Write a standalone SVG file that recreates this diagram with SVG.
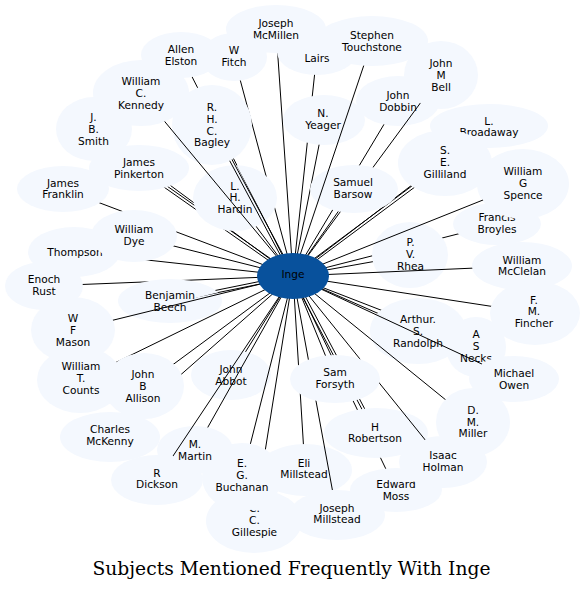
<svg xmlns="http://www.w3.org/2000/svg" width="584" height="590" viewBox="0 0 584 590">
<style>
.n ellipse{fill:#f4f8fe}
.n text{font-family:"DejaVu Sans",Verdana,sans-serif;font-size:10.6px;text-anchor:middle;fill:#000}
#edges line{stroke:#000;stroke-width:1}
.title{font-family:"DejaVu Serif",serif;font-size:18.7px;text-anchor:middle;fill:#000}
</style>
<defs>
<mask id="edgemask" maskUnits="userSpaceOnUse" x="0" y="0" width="584" height="590">
<rect width="584" height="590" fill="#fff"/>
<g fill="#000">
<ellipse cx="317" cy="52" rx="40" ry="23"/><ellipse cx="276" cy="29" rx="50" ry="24"/><ellipse cx="372" cy="41" rx="56" ry="25"/>
<ellipse cx="181" cy="55" rx="40" ry="23"/><ellipse cx="234" cy="57" rx="33" ry="24"/><ellipse cx="94" cy="129" rx="38" ry="32"/>
<ellipse cx="141" cy="93" rx="48" ry="33"/><ellipse cx="212" cy="125" rx="40" ry="40"/><ellipse cx="324" cy="120" rx="41" ry="25"/>
<ellipse cx="398" cy="101" rx="42" ry="25"/><ellipse cx="441" cy="75" rx="37" ry="34"/><ellipse cx="489" cy="126" rx="59" ry="22"/>
<ellipse cx="445" cy="163" rx="47" ry="33"/><ellipse cx="497" cy="224" rx="44" ry="21"/><ellipse cx="523" cy="184" rx="46" ry="35"/>
<ellipse cx="354" cy="189" rx="44" ry="24"/><ellipse cx="139" cy="168" rx="50" ry="23"/><ellipse cx="63" cy="189" rx="46" ry="23"/>
<ellipse cx="235" cy="198" rx="42" ry="33"/><ellipse cx="74" cy="252" rx="46" ry="25"/><ellipse cx="134" cy="236" rx="43" ry="26"/>
<ellipse cx="410" cy="255" rx="38" ry="33"/><ellipse cx="522" cy="266" rx="50" ry="24"/><ellipse cx="44" cy="286" rx="39" ry="24"/>
<ellipse cx="170" cy="301" rx="52" ry="22"/><ellipse cx="535" cy="313" rx="45" ry="32"/><ellipse cx="418" cy="331" rx="48" ry="33"/>
<ellipse cx="73" cy="330" rx="42" ry="33"/><ellipse cx="476" cy="347" rx="30" ry="30"/><ellipse cx="514" cy="379" rx="45" ry="23"/>
<ellipse cx="80" cy="380" rx="43" ry="33"/><ellipse cx="144" cy="386" rx="40" ry="33"/><ellipse cx="231" cy="375" rx="40" ry="25"/>
<ellipse cx="335" cy="379" rx="45" ry="24"/><ellipse cx="376" cy="433" rx="52" ry="25"/><ellipse cx="110" cy="437" rx="50" ry="25"/>
<ellipse cx="396" cy="490" rx="46" ry="22"/><ellipse cx="443" cy="462" rx="44" ry="26"/><ellipse cx="473" cy="422" rx="37" ry="34"/>
<ellipse cx="254" cy="521" rx="48" ry="32"/><ellipse cx="242" cy="477" rx="40" ry="34"/><ellipse cx="305" cy="470" rx="47" ry="26"/>
<ellipse cx="157" cy="480" rx="46" ry="25"/><ellipse cx="195" cy="450" rx="38" ry="24"/><ellipse cx="337" cy="515" rx="48" ry="25"/>
</g>
<g stroke="#fff" stroke-width="3" fill="none">
<line x1="166" y1="123" x2="262" y2="240"/>
<line x1="232.4" y1="163" x2="268" y2="230" stroke-width="5"/>
<line x1="363.3" y1="67" x2="305" y2="240"/>
<line x1="420.4" y1="103" x2="380" y2="158"/>
<line x1="113.5" y1="320" x2="230" y2="291"/>
<line x1="472" y1="268.2" x2="370" y2="272.6"/>
<line x1="482" y1="364" x2="335" y2="296"/>
<line x1="173" y1="456" x2="262" y2="322"/>
<line x1="208" y1="427" x2="262" y2="331"/>
<line x1="483" y1="200" x2="360" y2="249"/>
<line x1="316.2" y1="402" x2="332.4" y2="490"/>
<line x1="380" y1="384" x2="425" y2="440"/>
<line x1="350" y1="322" x2="445" y2="399"/>
<line x1="251" y1="443" x2="275" y2="346"/>
</g>
</mask>
</defs>
<rect width="584" height="590" fill="#fff"/>
<g id="n-lairs" class="n"><ellipse cx="317" cy="52" rx="40" ry="23"/><text><tspan x="317" y="62.2">Lairs</tspan></text></g>
<g id="n-mcmillen" class="n"><ellipse cx="276" cy="29" rx="50" ry="24"/><text><tspan x="276" y="27.05">Joseph</tspan><tspan x="276" y="38.75">McMillen</tspan></text></g>
<g id="n-touchstone" class="n"><ellipse cx="372" cy="41" rx="56" ry="25"/><text><tspan x="372" y="39.05">Stephen</tspan><tspan x="372" y="50.75">Touchstone</tspan></text></g>
<g id="n-elston" class="n"><ellipse cx="181" cy="55" rx="40" ry="23"/><text><tspan x="181" y="53.05">Allen</tspan><tspan x="181" y="64.75">Elston</tspan></text></g>
<g id="n-fitch" class="n"><ellipse cx="234" cy="57" rx="33" ry="24"/><text><tspan x="234" y="54.05">W</tspan><tspan x="234" y="65.75">Fitch</tspan></text></g>
<g id="n-smith" class="n"><ellipse cx="94" cy="129" rx="38" ry="32"/><text><tspan x="93.5" y="121.2">J.</tspan><tspan x="93.5" y="132.9">B.</tspan><tspan x="93.5" y="144.6">Smith</tspan></text></g>
<g id="n-kennedy" class="n"><ellipse cx="141" cy="93" rx="48" ry="33"/><text><tspan x="141" y="85.2">William</tspan><tspan x="141" y="96.9">C.</tspan><tspan x="141" y="108.6">Kennedy</tspan></text></g>
<g id="n-bagley" class="n"><ellipse cx="212" cy="125" rx="40" ry="40"/><text><tspan x="212" y="111.35">R.</tspan><tspan x="212" y="123.05">H.</tspan><tspan x="212" y="134.75">C.</tspan><tspan x="212" y="146.45">Bagley</tspan></text></g>
<g id="n-yeager" class="n"><ellipse cx="324" cy="120" rx="41" ry="25"/><text><tspan x="323" y="117.35">N.</tspan><tspan x="323" y="129.05">Yeager</tspan></text></g>
<g id="n-dobbin" class="n"><ellipse cx="398" cy="101" rx="42" ry="25"/><text><tspan x="398" y="99.05">John</tspan><tspan x="398" y="110.75">Dobbin</tspan></text></g>
<g id="n-bell" class="n"><ellipse cx="441" cy="75" rx="37" ry="34"/><text><tspan x="441" y="67.2">John</tspan><tspan x="441" y="78.9">M</tspan><tspan x="441" y="90.6">Bell</tspan></text></g>
<g id="n-broadaway" class="n"><ellipse cx="489" cy="126" rx="59" ry="22"/><text><tspan x="489" y="124.75">L.</tspan><tspan x="489" y="136.45">Broadaway</tspan></text></g>
<g id="n-gilliland" class="n"><ellipse cx="445" cy="163" rx="47" ry="33"/><text><tspan x="445" y="154.2">S.</tspan><tspan x="445" y="165.9">E.</tspan><tspan x="445" y="177.6">Gilliland</tspan></text></g>
<g id="n-broyles" class="n"><ellipse cx="497" cy="224" rx="44" ry="21"/><text><tspan x="497" y="221.05">Francis</tspan><tspan x="497" y="232.75">Broyles</tspan></text></g>
<g id="n-spence" class="n"><ellipse cx="523" cy="184" rx="46" ry="35"/><text><tspan x="523" y="175.2">William</tspan><tspan x="523" y="186.9">G</tspan><tspan x="523" y="198.6">Spence</tspan></text></g>
<g id="n-barsow" class="n"><ellipse cx="354" cy="189" rx="44" ry="24"/><text><tspan x="353" y="186.05">Samuel</tspan><tspan x="353" y="197.75">Barsow</tspan></text></g>
<g id="n-pinkerton" class="n"><ellipse cx="139" cy="168" rx="50" ry="23"/><text><tspan x="139" y="166.05">James</tspan><tspan x="139" y="177.75">Pinkerton</tspan></text></g>
<g id="n-franklin" class="n"><ellipse cx="63" cy="189" rx="46" ry="23"/><text><tspan x="63" y="186.55">James</tspan><tspan x="63" y="198.25">Franklin</tspan></text></g>
<g id="n-hardin" class="n"><ellipse cx="235" cy="198" rx="42" ry="33"/><text><tspan x="235" y="189.7">L.</tspan><tspan x="235" y="201.4">H.</tspan><tspan x="235" y="213.1">Hardin</tspan></text></g>
<g id="n-thompson" class="n"><ellipse cx="74" cy="252" rx="46" ry="25"/><text><tspan x="75" y="255.6">Thompson</tspan></text></g>
<g id="n-dye" class="n"><ellipse cx="134" cy="236" rx="43" ry="26"/><text><tspan x="134" y="233.05">William</tspan><tspan x="134" y="244.75">Dye</tspan></text></g>
<g id="n-rhea" class="n"><ellipse cx="410" cy="255" rx="38" ry="33"/><text><tspan x="410.5" y="246.2">P.</tspan><tspan x="410.5" y="257.9">V.</tspan><tspan x="410.5" y="269.6">Rhea</tspan></text></g>
<g id="n-mcclelan" class="n"><ellipse cx="522" cy="266" rx="50" ry="24"/><text><tspan x="522" y="263.55">William</tspan><tspan x="522" y="275.25">McClelan</tspan></text></g>
<g id="n-rust" class="n"><ellipse cx="44" cy="286" rx="39" ry="24"/><text><tspan x="44" y="283.05">Enoch</tspan><tspan x="44" y="294.75">Rust</tspan></text></g>
<g id="n-beech" class="n"><ellipse cx="170" cy="301" rx="52" ry="22"/><text><tspan x="170" y="299.05">Benjamin</tspan><tspan x="170" y="310.75">Beech</tspan></text></g>
<g id="n-fincher" class="n"><ellipse cx="535" cy="313" rx="45" ry="32"/><text><tspan x="534" y="303.7">F.</tspan><tspan x="534" y="315.4">M.</tspan><tspan x="534" y="327.1">Fincher</tspan></text></g>
<g id="n-randolph" class="n"><ellipse cx="418" cy="331" rx="48" ry="33"/><text><tspan x="418" y="323.2">Arthur.</tspan><tspan x="418" y="334.9">S.</tspan><tspan x="418" y="346.6">Randolph</tspan></text></g>
<g id="n-mason" class="n"><ellipse cx="73" cy="330" rx="42" ry="33"/><text><tspan x="73" y="322.2">W</tspan><tspan x="73" y="333.9">F</tspan><tspan x="73" y="345.6">Mason</tspan></text></g>
<g id="n-necks" class="n"><ellipse cx="476" cy="347" rx="30" ry="30"/><text><tspan x="476" y="338.2">A</tspan><tspan x="476" y="349.9">S</tspan><tspan x="476" y="361.6">Necks</tspan></text></g>
<g id="n-owen" class="n"><ellipse cx="514" cy="379" rx="45" ry="23"/><text><tspan x="514" y="377.05">Michael</tspan><tspan x="514" y="388.75">Owen</tspan></text></g>
<g id="n-counts" class="n"><ellipse cx="80" cy="380" rx="43" ry="33"/><text><tspan x="81" y="370.2">William</tspan><tspan x="81" y="381.9">T.</tspan><tspan x="81" y="393.6">Counts</tspan></text></g>
<g id="n-allison" class="n"><ellipse cx="144" cy="386" rx="40" ry="33"/><text><tspan x="143" y="378.2">John</tspan><tspan x="143" y="389.9">B</tspan><tspan x="143" y="401.6">Allison</tspan></text></g>
<g id="n-abbot" class="n"><ellipse cx="231" cy="375" rx="40" ry="25"/><text><tspan x="231" y="373.05">John</tspan><tspan x="231" y="384.75">Abbot</tspan></text></g>
<g id="n-forsyth" class="n"><ellipse cx="335" cy="379" rx="45" ry="24"/><text><tspan x="335" y="376.05">Sam</tspan><tspan x="335" y="387.75">Forsyth</tspan></text></g>
<g id="n-robertson" class="n"><ellipse cx="376" cy="433" rx="52" ry="25"/><text><tspan x="375" y="430.55">H</tspan><tspan x="375" y="442.25">Robertson</tspan></text></g>
<g id="n-mckenny" class="n"><ellipse cx="110" cy="437" rx="50" ry="25"/><text><tspan x="110" y="433.05">Charles</tspan><tspan x="110" y="444.75">McKenny</tspan></text></g>
<g id="n-moss" class="n"><ellipse cx="396" cy="490" rx="46" ry="22"/><text><tspan x="396" y="488.05">Edward</tspan><tspan x="396" y="499.75">Moss</tspan></text></g>
<g id="n-holman" class="n"><ellipse cx="443" cy="462" rx="44" ry="26"/><text><tspan x="443" y="459.05">Isaac</tspan><tspan x="443" y="470.75">Holman</tspan></text></g>
<g id="n-miller" class="n"><ellipse cx="473" cy="422" rx="37" ry="34"/><text><tspan x="473" y="413.9">D.</tspan><tspan x="473" y="425.6">M.</tspan><tspan x="473" y="437.3">Miller</tspan></text></g>
<g id="n-gillespie" class="n"><ellipse cx="254" cy="521" rx="48" ry="32"/><text><tspan x="254.5" y="512.2">C.</tspan><tspan x="254.5" y="523.9">C.</tspan><tspan x="254.5" y="535.6">Gillespie</tspan></text></g>
<g id="n-buchanan" class="n"><ellipse cx="242" cy="477" rx="40" ry="34"/><text><tspan x="242" y="467.2">E.</tspan><tspan x="242" y="478.9">G.</tspan><tspan x="242" y="490.6">Buchanan</tspan></text></g>
<g id="n-eli" class="n"><ellipse cx="305" cy="470" rx="47" ry="26"/><text><tspan x="304" y="466.55">Eli</tspan><tspan x="304" y="478.25">Millstead</tspan></text></g>
<g id="n-dickson" class="n"><ellipse cx="157" cy="480" rx="46" ry="25"/><text><tspan x="157" y="476.55">R</tspan><tspan x="157" y="488.25">Dickson</tspan></text></g>
<g id="n-martin" class="n"><ellipse cx="195" cy="450" rx="38" ry="24"/><text><tspan x="195" y="448.05">M.</tspan><tspan x="195" y="459.75">Martin</tspan></text></g>
<g id="n-jmillstead" class="n"><ellipse cx="337" cy="515" rx="48" ry="25"/><text><tspan x="337" y="511.55">Joseph</tspan><tspan x="337" y="523.25">Millstead</tspan></text></g>
<g id="edges" mask="url(#edgemask)">
<line x1="293" y1="276" x2="317" y2="52"/>
<line x1="293" y1="276" x2="276" y2="29"/>
<line x1="293" y1="276" x2="372" y2="41"/>
<line x1="293" y1="276" x2="181" y2="55"/>
<line x1="293" y1="276" x2="234" y2="57"/>
<line x1="293" y1="276" x2="94" y2="129"/>
<line x1="293" y1="276" x2="141" y2="93"/>
<line x1="294.15" y1="275.39" x2="213.15" y2="124.39"/>
<line x1="291.85" y1="276.61" x2="210.85" y2="125.61"/>
<line x1="293" y1="276" x2="324" y2="120"/>
<line x1="293" y1="276" x2="398" y2="101"/>
<line x1="293" y1="276" x2="441" y2="75"/>
<line x1="293" y1="276" x2="489" y2="126"/>
<line x1="293.78" y1="277.04" x2="445.78" y2="164.04"/>
<line x1="292.22" y1="274.96" x2="444.22" y2="161.96"/>
<line x1="293" y1="276" x2="497" y2="224"/>
<line x1="293" y1="276" x2="523" y2="184"/>
<line x1="293" y1="276" x2="354" y2="189"/>
<line x1="293.75" y1="274.94" x2="139.75" y2="166.94"/>
<line x1="292.25" y1="277.06" x2="138.25" y2="169.06"/>
<line x1="293" y1="276" x2="63" y2="189"/>
<line x1="293" y1="276" x2="235" y2="198"/>
<line x1="293" y1="276" x2="74" y2="252"/>
<line x1="293" y1="276" x2="134" y2="236"/>
<line x1="293" y1="276" x2="410" y2="255"/>
<line x1="293" y1="276" x2="522" y2="266"/>
<line x1="293" y1="276" x2="44" y2="286"/>
<line x1="293.26" y1="277.27" x2="170.26" y2="302.27"/>
<line x1="292.74" y1="274.73" x2="169.74" y2="299.73"/>
<line x1="293" y1="276" x2="535" y2="313"/>
<line x1="293" y1="276" x2="418" y2="331"/>
<line x1="293" y1="276" x2="73" y2="330"/>
<line x1="293" y1="276" x2="476" y2="347"/>
<line x1="293" y1="276" x2="514" y2="379"/>
<line x1="293" y1="276" x2="80" y2="380"/>
<line x1="293" y1="276" x2="144" y2="386"/>
<line x1="293" y1="276" x2="231" y2="375"/>
<line x1="293" y1="276" x2="335" y2="379"/>
<line x1="294.15" y1="275.39" x2="377.15" y2="432.39"/>
<line x1="291.85" y1="276.61" x2="374.85" y2="433.61"/>
<line x1="293" y1="276" x2="110" y2="437"/>
<line x1="293" y1="276" x2="396" y2="490"/>
<line x1="293" y1="276" x2="443" y2="462"/>
<line x1="293" y1="276" x2="473" y2="422"/>
<line x1="293" y1="276" x2="254" y2="521"/>
<line x1="293" y1="276" x2="242" y2="477"/>
<line x1="293" y1="276" x2="305" y2="470"/>
<line x1="293" y1="276" x2="157" y2="480"/>
<line x1="293" y1="276" x2="195" y2="450"/>
<line x1="293" y1="276" x2="337" y2="515"/>
</g>
<g id="n-inge" class="n"><ellipse cx="293" cy="276" rx="36" ry="23" style="fill:#08519c"/><text><tspan x="293" y="278.4">Inge</tspan></text></g>
<text class="title" x="291.5" y="575">Subjects Mentioned Frequently With Inge</text>
</svg>
